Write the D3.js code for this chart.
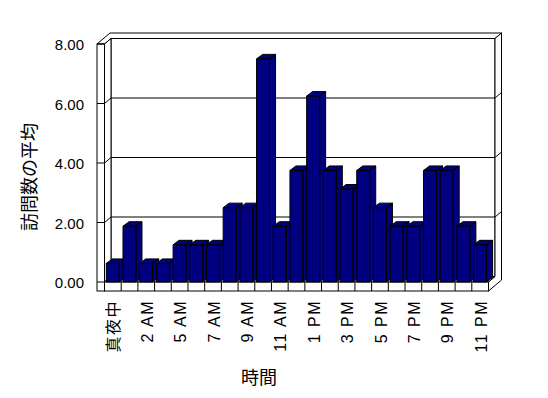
<!DOCTYPE html>
<html>
<head>
<meta charset="utf-8">
<script src="https://cdn.jsdelivr.net/npm/d3@7"></script>
<style>
  body { margin: 0; background: #fff; }
  svg { display: block; }
  .tick text { font-family: "Liberation Sans", Arial, "Noto Sans CJK JP", sans-serif; font-size: 15px; fill: #000; }
  .xaxis .tick text { font-size: 16px; letter-spacing: 1.5px; }
  .title { font-family: "Noto Sans CJK JP", sans-serif; font-size: 18px; fill: #000; }
</style>
</head>
<body>
<script>
(function(){

    //chart data
    var hours = ["真夜中","1 AM","2 AM","4 AM","5 AM","6 AM","7 AM","8 AM","9 AM","10 AM","11 AM","正午",
                 "1 PM","2 PM","3 PM","4 PM","5 PM","6 PM","7 PM","8 PM","9 PM","10 PM","11 PM"];
    var visits = [0.625,1.875,0.625,0.625,1.25,1.25,1.25,2.5,2.5,7.5,1.875,3.75,
                  6.25,3.75,3.125,3.75,2.5,1.875,1.875,3.75,3.75,1.875,1.25];
    var yTicks = [0, 2, 4, 6, 8];
    var xLabels = hours.filter(function(d, i){ return i % 2 === 0; });
    var yTitle = "訪問数の平均",
        xTitle = "時間";

    var width = 548, height = 398;

    //front plane of the 3d box
    var x0 = 104.5, x1 = 488.5,
        wallLeft = 97,      //outer front edge of left wall
        floorH = 9,         //floor slab thickness
        dx = 6.5, dy = -5.5; //one depth step

    var x = d3.scaleBand().domain(hours).range([x0, x1]).paddingInner(0).paddingOuter(0);
    var y = d3.scaleLinear().domain([0, 8]).range([282, 44]);

    var svg = d3.select("body").append("svg")
        .attr("width", width)
        .attr("height", height);

    var y0 = y(0), yTop = y(8), yBot = y0 + floorH;

    function poly(pts){
        return "M" + pts.map(function(p){ return p[0] + "," + p[1]; }).join("L") + "Z";
    }

    var box = svg.append("g")
        .attr("fill", "#fff")
        .attr("stroke", "#000")
        .attr("stroke-width", 1);

    //back wall (inner face)
    box.append("path")
        .attr("d", poly([[x0+dx, yTop+dy],[x1+dx, yTop+dy],[x1+dx, y0+dy],[x0+dx, y0+dy]]));

    //gridlines on back wall
    box.selectAll(".grid")
        .data(yTicks.slice(1, 4))
        .enter()
        .append("line")
        .attr("x1", x0 + dx).attr("x2", x1 + dx)
        .attr("y1", function(d){ return y(d) + dy; })
        .attr("y2", function(d){ return y(d) + dy; });

    //top faces of left and back wall
    box.append("path")
        .attr("d", poly([[wallLeft, yTop],[x0, yTop],[x0+dx, yTop+dy],[x1+dx, yTop+dy],
                         [x1+2*dx, yTop+2*dy],[wallLeft+2*dx, yTop+2*dy]]));

    //right side face
    box.append("path")
        .attr("d", poly([[x1, y0],[x1+dx, y0+dy],[x1+dx, yTop+dy],[x1+2*dx, yTop+2*dy],
                         [x1+2*dx, yBot+2*dy],[x1, yBot]]));
    box.selectAll(".rgrid")
        .data(yTicks.slice(1, 4))
        .enter()
        .append("line")
        .attr("x1", x1 + dx).attr("x2", x1 + 2*dx)
        .attr("y1", function(d){ return y(d) + dy; })
        .attr("y2", function(d){ return y(d) + 2*dy; });

    //left wall inner face
    box.append("path")
        .attr("d", poly([[x0, yTop],[x0+dx, yTop+dy],[x0+dx, y0+dy],[x0, y0]]));
    box.selectAll(".lgrid")
        .data(yTicks.slice(1, 4))
        .enter()
        .append("line")
        .attr("x1", x0).attr("x2", x0 + dx)
        .attr("y1", function(d){ return y(d); })
        .attr("y2", function(d){ return y(d) + dy; });

    //left wall front face with tick marks
    box.append("rect")
        .attr("x", wallLeft).attr("y", yTop)
        .attr("width", x0 - wallLeft).attr("height", yBot - yTop);
    box.selectAll(".ltick")
        .data(yTicks)
        .enter()
        .append("line")
        .attr("x1", wallLeft).attr("x2", x0)
        .attr("y1", function(d){ return y(d); })
        .attr("y2", function(d){ return y(d); });

    //floor top and front
    box.append("path")
        .attr("d", poly([[x0, y0],[x1, y0],[x1+dx, y0+dy],[x0+dx, y0+dy]]));
    box.append("rect")
        .attr("x", x0).attr("y", y0)
        .attr("width", x1 - x0).attr("height", floorH);
    box.selectAll(".divider")
        .data(hours.slice(1))
        .enter()
        .append("line")
        .attr("x1", function(d){ return x(d); })
        .attr("x2", function(d){ return x(d); })
        .attr("y1", y0).attr("y2", yBot);

    //bars, drawn left to right so later bars cover earlier sides
    var inset = 1.8, bw = x.bandwidth() - 3.7, bdx = 6, bdy = -4.5;
    var bars = svg.append("g")
        .attr("fill", "#000080")
        .attr("stroke", "#000")
        .attr("stroke-width", 1)
        .attr("stroke-linejoin", "round");

    bars.selectAll(".bar")
        .data(visits)
        .enter()
        .append("path")
        .attr("class", "bar")
        .attr("d", function(d, i){
            var bx = x(hours[i]) + inset, yv = y(d);
            var front = poly([[bx, yv],[bx+bw, yv],[bx+bw, y0],[bx, y0]]);
            var top = poly([[bx, yv],[bx+bdx, yv+bdy],[bx+bw+bdx, yv+bdy],[bx+bw, yv]]);
            var side = poly([[bx+bw, yv],[bx+bw+bdx, yv+bdy],[bx+bw+bdx, y0+bdy],[bx+bw, y0]]);
            return top + side + front;
        });

    //y axis labels
    var yAxis = svg.append("g")
        .attr("class", "yaxis")
        .attr("transform", "translate(" + wallLeft + ",1)")
        .call(d3.axisLeft(y).tickValues(yTicks).tickFormat(d3.format(".2f")).tickSize(0).tickPadding(13));
    yAxis.select(".domain").remove();

    //x axis labels, rotated
    var xAxis = svg.append("g")
        .attr("class", "xaxis")
        .attr("transform", "translate(0," + yBot + ")")
        .call(d3.axisBottom(x).tickValues(xLabels).tickSize(0));
    xAxis.select(".domain").remove();
    xAxis.selectAll("text")
        .attr("transform", "rotate(-90)")
        .attr("text-anchor", "end")
        .attr("x", -9)
        .attr("y", 1)
        .attr("dy", "0.35em");

    //axis titles
    svg.append("text")
        .attr("class", "title")
        .attr("text-anchor", "middle")
        .attr("x", 259)
        .attr("y", 384)
        .text(xTitle);

    svg.append("text")
        .attr("class", "title")
        .attr("text-anchor", "middle")
        .attr("transform", "translate(36,177) rotate(-90)")
        .text(yTitle);
})();
</script>
</body>
</html>
